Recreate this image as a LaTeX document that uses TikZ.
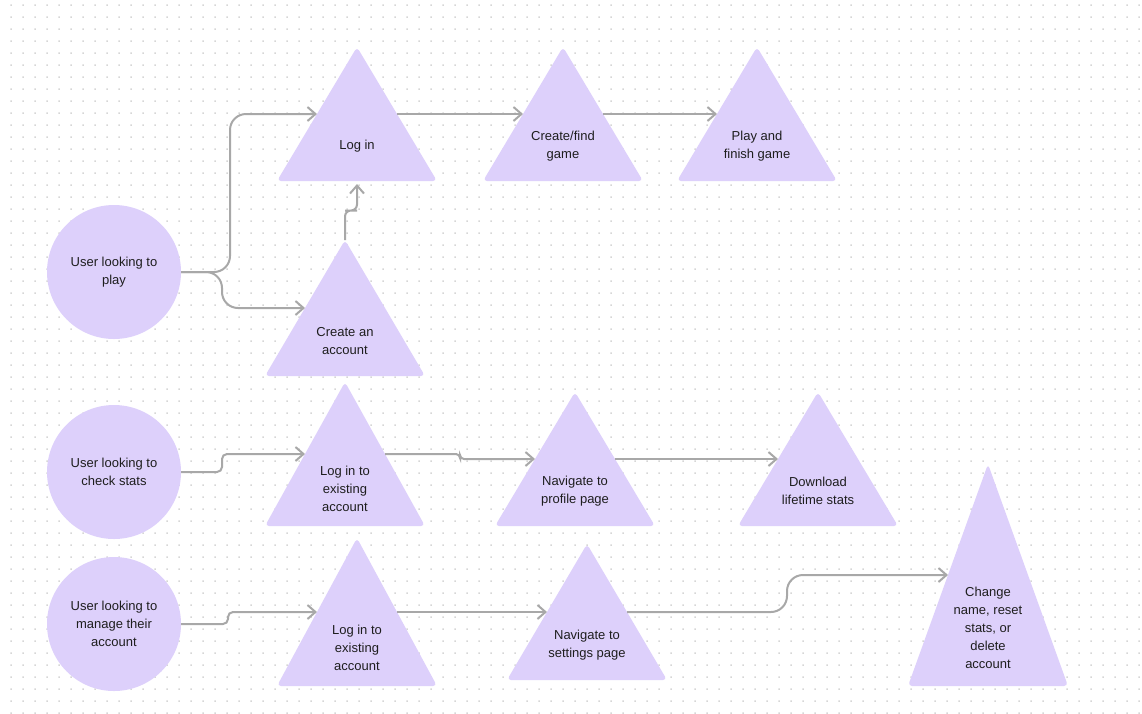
\documentclass[tikz,border=0pt]{standalone}
\usepackage{fontspec}
\setmainfont{Liberation Sans}
\usetikzlibrary{arrows.meta,calc}
\definecolor{lav}{HTML}{DDD0FB}
\definecolor{wire}{HTML}{A8A8A8}
\definecolor{ink}{HTML}{1E1E1E}
\definecolor{dotc}{HTML}{D6D6D6}
\tikzset{
  tribox/.style={draw=none,inner sep=0pt,outer sep=0pt,anchor=north},
  trifill/.style={fill=lav,rounded corners=4pt},
  txt/.style={text=ink,align=center,inner sep=0pt,font=\fontsize{13}{18}\selectfont},
  userc/.style={circle,fill=lav,minimum size=134pt,inner sep=0pt,outer sep=0pt,txt},
  conn/.style={draw=wire,line width=2pt,-{Straight Barb[length=8pt,width=14pt]}},
}
% triangle step: name, apex x, apex y, base width, height, label
\newcommand\tristep[6]{%
  \node[tribox,minimum width=#4pt,minimum height=#5pt] (#1) at (#2,#3) {};
  \fill[trifill] (#1.north) -- (#1.south east) -- (#1.south west) -- cycle;
  \coordinate (#1-w) at ($(#1.north)!0.5!(#1.south west)$);
  \coordinate (#1-e) at ($(#1.north)!0.5!(#1.south east)$);
  \node[txt] (#1-t) at ($(#1.north)!0.74!(#1.south)$) {#6};
}
\begin{document}
\begin{tikzpicture}[x=1pt,y=-1pt]
\useasboundingbox (0,0) rectangle (1142,713);
\fill[white] (0,0) rectangle (1142,713);
% dotted canvas
\fill[dotc] \foreach \x in {11,23,...,1139} {\foreach \y in {5,17,...,713} {(\x-0.75,\y-0.75) rectangle ++(1.5,1.5)}};

% users
\node[userc] (u1) at (114,272) {User looking to\\play};
\node[userc] (u2) at (114,472) {User looking to\\check stats};
\node[userc] (u3) at (114,624) {User looking to\\manage their\\account};

% steps
\tristep{login}{357}{47}{160}{134}{Log in}
\tristep{find}{563}{47}{160}{134}{Create/find\\game}
\tristep{playg}{757}{47}{160}{134}{Play and\\finish game}
\tristep{create}{345}{240}{160}{136}{Create an\\account}
\tristep{login2}{345}{382}{160}{144}{Log in to\\existing\\account}
\tristep{prof}{575}{392}{160}{134}{Navigate to\\profile page}
\tristep{dl}{818}{392}{160}{134}{Download\\lifetime stats}
\tristep{login3}{357}{538}{160}{148}{Log in to\\existing\\account}
\tristep{sett}{587}{544}{160}{136}{Navigate to\\settings page}
\tristep{chg}{988}{464}{160}{222}{Change\\name, reset\\stats, or\\delete\\account}

% flow: play
\draw[conn,rounded corners=16pt] (u1.east) -- ++(49,0) |- (login-w);
\draw[conn,rounded corners=16pt] (u1.east) -- ++(41,0) |- (create-w);
\draw[conn,rounded corners=6pt,shorten >=3pt] (create.north) |- ($(create.north)!0.5!(login.south)$) -| (login.south);
\draw[conn] (login-e) -- (find-w);
\draw[conn] (find-e) -- (playg-w);

% flow: stats
\draw[conn,rounded corners=5pt] (u2.east) -- ++(41,0) |- (login2-w);
\draw[conn,rounded corners=4pt] (login2-e) -- ++(75,0) |- (prof-w);
\draw[conn] (prof-e) -- (dl-w);

% flow: account
\draw[conn,rounded corners=5pt] (u3.east) -- ++(47,0) |- (login3-w);
\draw[conn] (login3-e) -- (sett-w);
\draw[conn,rounded corners=16pt] (sett-e) -- ++(160,0) |- (chg-w);
\end{tikzpicture}
\end{document}
